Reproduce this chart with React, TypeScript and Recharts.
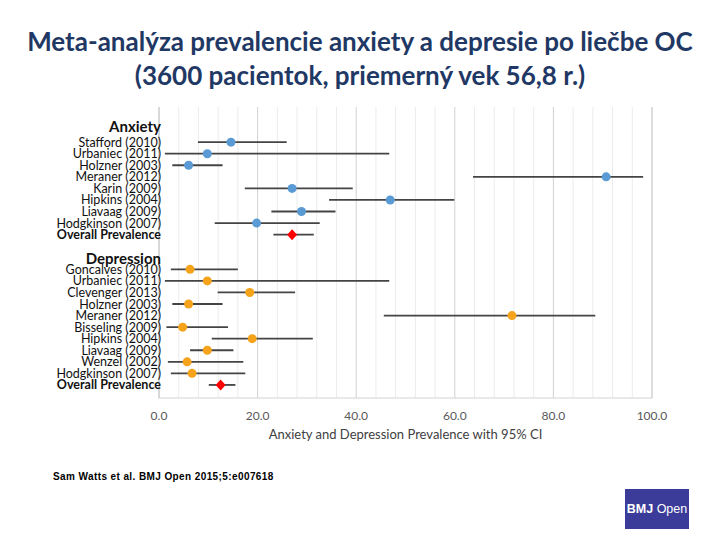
import React from "react";
import {
  ScatterChart,
  Scatter,
  XAxis,
  YAxis,
  CartesianGrid,
  ErrorBar,
  ReferenceLine,
  Label,
} from "recharts";

// studies in the order shown (top to bottom)
const anxietyStudies = [
  "Stafford (2010)",
  "Urbaniec (2011)",
  "Holzner (2003)",
  "Meraner (2012)",
  "Karin (2009)",
  "Hipkins (2004)",
  "Liavaag (2009)",
  "Hodgkinson (2007)",
];
const anxietyEst = [14.6, 9.8, 6.0, 90.7, 27.0, 46.9, 28.9, 19.8];
const anxietyLow = [7.9, 1.2, 2.7, 63.7, 17.4, 34.5, 22.8, 11.3];
const anxietyHigh = [25.9, 46.7, 12.9, 98.2, 39.3, 59.9, 35.8, 32.6];
const anxietyOverall = { est: 27.0, low: 23.2, high: 31.4 };

const depressionStudies = [
  "Goncalves (2010)",
  "Urbaniec (2011)",
  "Clevenger (2013)",
  "Holzner (2003)",
  "Meraner (2012)",
  "Bisseling (2009)",
  "Hipkins (2004)",
  "Liavaag (2009)",
  "Wenzel (2002)",
  "Hodgkinson (2007)",
];
const depressionEst = [6.3, 9.8, 18.4, 6.0, 71.6, 4.8, 18.9, 9.8, 5.7, 6.7];
const depressionLow = [2.4, 1.2, 11.9, 2.7, 45.6, 1.5, 10.7, 6.3, 1.8, 2.4];
const depressionHigh = [16.0, 46.7, 27.6, 12.9, 88.5, 14.0, 31.2, 15.1, 17.1, 17.5];
const depressionOverall = { est: 12.5, low: 10.1, high: 15.5 };

const xTicks = [0, 20, 40, 60, 80, 100];
const minorTicks = [4, 8, 12, 16, 24, 28, 32, 36, 44, 48, 52, 56, 64, 68, 72, 76, 84, 88, 92, 96];

const FONT = "Lato, 'Open Sans', sans-serif";

// row layout: anxiety header, studies, overall, gap, depression header, studies, overall
const anxHeaderRow = -1.4;
const anxOverallRow = anxietyStudies.length;
const depHeaderRow = anxOverallRow + 2;
const depFirstRow = depHeaderRow + 1;
const depOverallRow = depFirstRow + depressionStudies.length;

const rowLabels: Record<string, { text: string; kind: string }> = {};
rowLabels[String(anxHeaderRow)] = { text: "Anxiety", kind: "header" };
anxietyStudies.forEach((s, i) => (rowLabels[String(i)] = { text: s, kind: "study" }));
rowLabels[String(anxOverallRow)] = { text: "Overall Prevalence", kind: "overall" };
rowLabels[String(depHeaderRow)] = { text: "Depression", kind: "header" };
depressionStudies.forEach(
  (s, i) => (rowLabels[String(depFirstRow + i)] = { text: s, kind: "study" })
);
rowLabels[String(depOverallRow)] = { text: "Overall Prevalence", kind: "overall" };
const yTicks = Object.keys(rowLabels).map(Number).sort((a, b) => a - b);

const anxietyData = anxietyStudies.map((_, i) => ({
  row: i,
  est: anxietyEst[i],
  err: [anxietyEst[i] - anxietyLow[i], anxietyHigh[i] - anxietyEst[i]],
}));
const depressionData = depressionStudies.map((_, i) => ({
  row: depFirstRow + i,
  est: depressionEst[i],
  err: [depressionEst[i] - depressionLow[i], depressionHigh[i] - depressionEst[i]],
}));
const overallData = [
  { row: anxOverallRow, ...anxietyOverall },
  { row: depOverallRow, ...depressionOverall },
].map((d) => ({ row: d.row, est: d.est, err: [d.est - d.low, d.high - d.est] }));

const Y_MIN = -3.04;
const Y_MAX = 22.13;

function RowTick(props: any) {
  const { x, y, payload } = props;
  const info = rowLabels[String(payload.value)];
  if (!info) return null;
  const style =
    info.kind === "header"
      ? { fontSize: 15, fontWeight: 700 }
      : info.kind === "overall"
      ? { fontSize: 12.5, fontWeight: 700 }
      : { fontSize: 12.5, fontWeight: 400 };
  return (
    <text
      x={x + 2}
      y={y}
      textAnchor="end"
      dominantBaseline="central"
      fill="#111"
      fontFamily={FONT}
      {...style}
    >
      {info.text}
    </text>
  );
}

const dot = (color: string) => (p: any) =>
  <circle cx={p.cx} cy={p.cy} r={4.5} fill={color} stroke="none" />;

const diamond = (p: any) => (
  <polygon
    points={`${p.cx},${p.cy - 5.5} ${p.cx + 5},${p.cy} ${p.cx},${p.cy + 5.5} ${p.cx - 5},${p.cy}`}
    fill="#FF0000"
  />
);

export default function App() {
  return (
    <div
      style={{
        position: "absolute",
        left: 0,
        top: 0,
        width: 720,
        height: 540,
        background: "#fff",
        overflow: "hidden",
      }}
    >
      <div
        style={{
          position: "absolute",
          left: 0,
          top: 24,
          width: 720,
          textAlign: "center",
          fontFamily: FONT,
          fontSize: 26,
          fontWeight: 700,
          lineHeight: "34px",
          color: "#1F3864",
        }}
      >
        Meta-analýza prevalencie anxiety a depresie po liečbe OC
        <br />
        (3600 pacientok, priemerný vek 56,8 r.)
      </div>

      <div style={{ position: "absolute", left: 0, top: 0 }}>
        <ScatterChart
          width={720}
          height={540}
          margin={{ top: 107, right: 68, bottom: 98, left: 9 }}
        >
          <CartesianGrid vertical horizontal={false} stroke="#d2d2d2" />
          {minorTicks.map((v) => (
            <ReferenceLine key={v} x={v} stroke="#ececec" />
          ))}
          <ReferenceLine x={100} stroke="#d2d2d2" />
          <XAxis
            type="number"
            dataKey="est"
            domain={[0, 100]}
            ticks={xTicks}
            tickFormatter={(v) => v.toFixed(1)}
            tick={{ fill: "#595959", fontSize: 12, fontFamily: FONT }}
            tickLine={false}
            tickSize={0}
            tickMargin={13}
            axisLine={{ stroke: "#d2d2d2" }}
            height={44}
          >
            <Label
              value="Anxiety and Depression Prevalence with 95% CI"
              position="insideBottom"
              offset={3}
              fill="#404040"
              fontSize={13}
              fontFamily={FONT}
            />
          </XAxis>
          <YAxis
            type="number"
            dataKey="row"
            domain={[Y_MIN, Y_MAX]}
            reversed
            ticks={yTicks}
            interval={0}
            width={150}
            tick={<RowTick />}
            tickLine={false}
            tickSize={0}
            tickMargin={0}
            axisLine={{ stroke: "#c8c8c8" }}
          />
          <Scatter
            data={anxietyData}
            fill="#5B9BD5"
            shape={dot("#5B9BD5")}
            isAnimationActive={false}
          >
            <ErrorBar dataKey="err" direction="x" width={0} stroke="#444" strokeWidth={1.8} />
          </Scatter>
          <Scatter
            data={depressionData}
            fill="#F5A31A"
            shape={dot("#F5A31A")}
            isAnimationActive={false}
          >
            <ErrorBar dataKey="err" direction="x" width={0} stroke="#444" strokeWidth={1.8} />
          </Scatter>
          <Scatter
            data={overallData}
            fill="#FF0000"
            shape={diamond}
            isAnimationActive={false}
          >
            <ErrorBar dataKey="err" direction="x" width={0} stroke="#444" strokeWidth={1.8} />
          </Scatter>
        </ScatterChart>
      </div>

      <div
        style={{
          position: "absolute",
          left: 53,
          top: 471,
          fontFamily: "'Liberation Sans', Arial, sans-serif",
          fontSize: 10,
          fontWeight: 700,
          letterSpacing: 0.4,
          color: "#000",
        }}
      >
        Sam Watts et al. BMJ Open 2015;5:e007618
      </div>

      <div
        style={{
          position: "absolute",
          left: 625,
          top: 489,
          width: 64,
          height: 40,
          background: "#3B3B99",
          color: "#fff",
          fontFamily: "'Liberation Sans', Arial, sans-serif",
          fontSize: 12.5,
          display: "flex",
          alignItems: "center",
          justifyContent: "center",
          whiteSpace: "nowrap",
        }}
      >
        <b>BMJ</b>&nbsp;Open
      </div>
    </div>
  );
}
